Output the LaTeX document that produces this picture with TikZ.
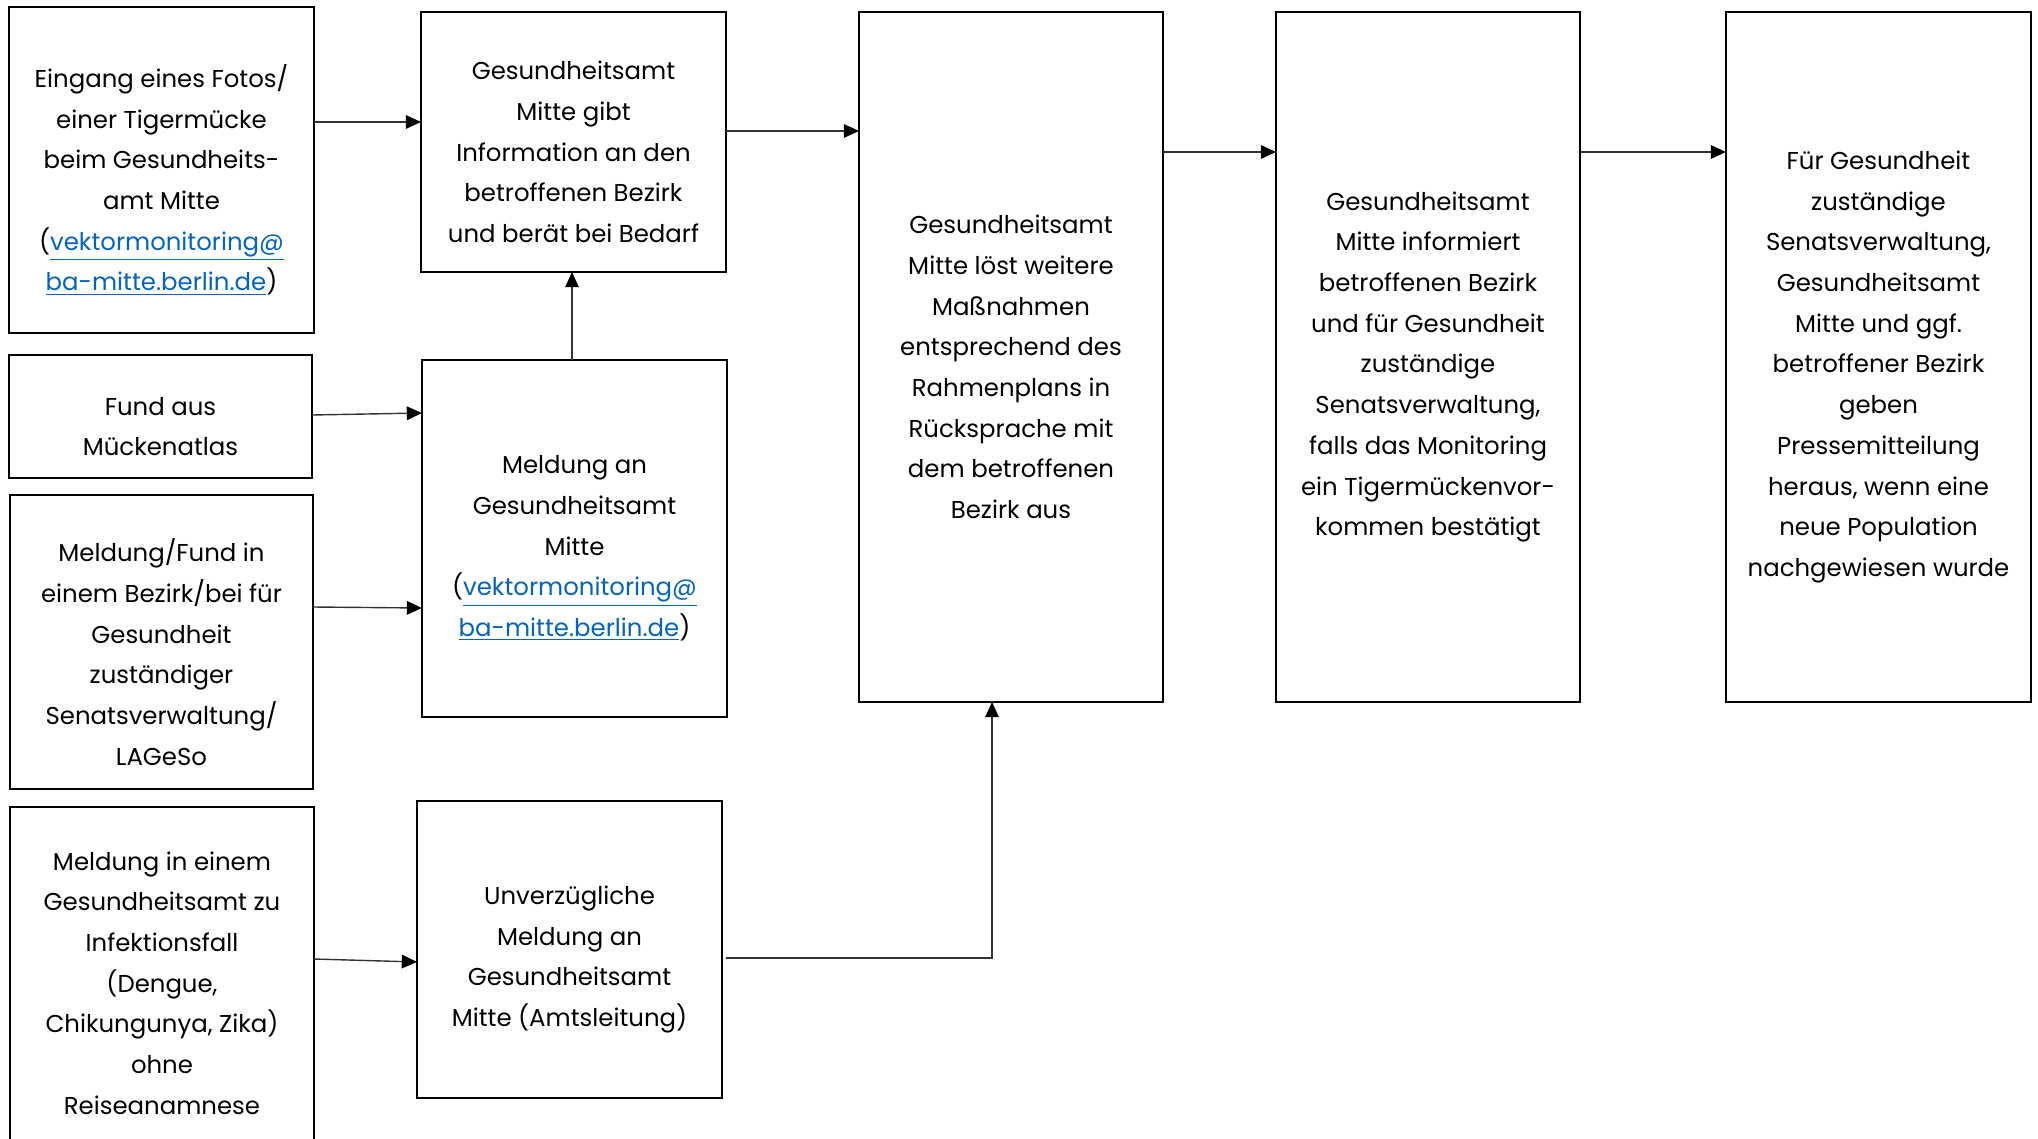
\documentclass[tikz,border=0pt]{standalone}
\usepackage{fontspec}
\setmainfont{Poppins}
\usetikzlibrary{arrows.meta,calc}
\definecolor{linkblue}{HTML}{0563C1}
\definecolor{conn}{HTML}{333333}
\newcommand{\lnk}[1]{\textcolor{linkblue}{\underline{#1}}}
\begin{document}
\begin{tikzpicture}[x=0.5pt,y=-0.5pt,
  box/.style={draw=black,line width=1.2pt,inner sep=0pt,outer sep=0pt},
  txt/.style={inner sep=0pt,align=center,font={\fontsize{12.2}{20.35}\selectfont},text=black},
  arr/.style={draw=conn,line width=0.7pt,-{Triangle[length=7.6pt,width=6.8pt,fill=black,color=black]}}]
\useasboundingbox (0,0) rectangle (2038,1139);
\clip (0,0) rectangle (2038,1139);
\fill[white] (0,0) rectangle (2038,1139);
% boxes
\node[box,minimum width=305*0.5pt,minimum height=326*0.5pt] (A) at (161.5,170) {};
\node[box,minimum width=305*0.5pt,minimum height=260*0.5pt] (B) at (573.5,142) {};
\node[box,minimum width=303*0.5pt,minimum height=123*0.5pt] (D) at (160.5,416.5) {};
\node[box,minimum width=303*0.5pt,minimum height=294*0.5pt] (E) at (161.5,642) {};
\node[box,minimum width=305*0.5pt,minimum height=357*0.5pt] (C) at (574.5,538.5) {};
\node[box,minimum width=304*0.5pt,minimum height=352*0.5pt] (F) at (162,983) {};
\node[box,minimum width=305*0.5pt,minimum height=297*0.5pt] (G) at (569.5,949.5) {};
\node[box,minimum width=304*0.5pt,minimum height=690*0.5pt] (H) at (1011,357) {};
\node[box,minimum width=304*0.5pt,minimum height=690*0.5pt] (I) at (1428,357) {};
\node[box,minimum width=305*0.5pt,minimum height=690*0.5pt] (J) at (1878.5,357) {};
% texts
\node[txt] (tA) at ([yshift=-5pt]A.center)
  {Eingang eines Fotos/\\einer Tigermücke\\beim Gesundheits-\\amt Mitte\\(\lnk{vektormonitoring@}\\\lnk{ba-mitte.berlin.de})};
\node[txt] (tB) at ([yshift=-5pt]B.center)
  {Gesundheitsamt\\Mitte gibt\\Information an den\\betroffenen Bezirk\\und berät bei Bedarf};
\node[txt] (tD) at ([yshift=-5pt]D.center)
  {Fund aus\\Mückenatlas};
\node[txt] (tE) at ([yshift=-5pt]E.center)
  {Meldung/Fund in\\einem Bezirk/bei für\\Gesundheit\\zuständiger\\Senatsverwaltung/\\LAGeSo};
\node[txt] (tC) at ([yshift=-5pt]C.center)
  {Meldung an\\Gesundheitsamt\\Mitte\\(\lnk{vektormonitoring@}\\\lnk{ba-mitte.berlin.de})};
\node[txt] (tF) at (F.center)
  {Meldung in einem\\Gesundheitsamt zu\\Infektionsfall\\(Dengue,\\Chikungunya, Zika)\\ohne\\Reiseanamnese};
\node[txt] (tG) at ([yshift=-5pt]G.center)
  {Unverzügliche\\Meldung an\\Gesundheitsamt\\Mitte (Amtsleitung)};
\node[txt] (tH) at ([yshift=-5pt]H.center)
  {Gesundheitsamt\\Mitte löst weitere\\Maßnahmen\\entsprechend des\\Rahmenplans in\\Rücksprache mit\\dem betroffenen\\Bezirk aus};
\node[txt] (tI) at ([yshift=-5pt]I.center)
  {Gesundheitsamt\\Mitte informiert\\betroffenen Bezirk\\und für Gesundheit\\zuständige\\Senatsverwaltung,\\falls das Monitoring\\ein Tigermückenvor-\\kommen bestätigt};
\node[txt] (tJ) at ([yshift=-5pt]J.center)
  {Für Gesundheit\\zuständige\\Senatsverwaltung,\\Gesundheitsamt\\Mitte und ggf.\\betroffener Bezirk\\geben\\Pressemitteilung\\heraus, wenn eine\\neue Population\\nachgewiesen wurde};
% connectors
\coordinate (a1) at ([yshift=24pt]A.east);
\draw[arr] (a1) -- (a1 -| B.west);
\draw[arr] ([yshift=0.75pt]D.east) -- ([yshift=62.75pt]C.west);
\draw[arr] ([yshift=17.5pt]E.east) -- ([yshift=-34.75pt]C.west);
\draw[arr] ([xshift=-1.25pt]C.north) -- ([xshift=-0.75pt]B.south);
\coordinate (b1) at ([yshift=5.5pt]B.east);
\draw[arr] (b1) -- (b1 -| H.west);
\draw[arr] ([yshift=12pt]F.east) -- ([yshift=-6.25pt]G.west);
\coordinate (g1) at ([xshift=2pt,yshift=-4.25pt]G.east);
\coordinate (g2) at ([xshift=-9.5pt]H.south);
\draw[arr] (g1) -| (g2);
\draw[arr] ([yshift=102.5pt]H.east) -- ([yshift=102.5pt]I.west);
\draw[arr] ([yshift=102.5pt]I.east) -- ([yshift=102.5pt]J.west);
\end{tikzpicture}
\end{document}
